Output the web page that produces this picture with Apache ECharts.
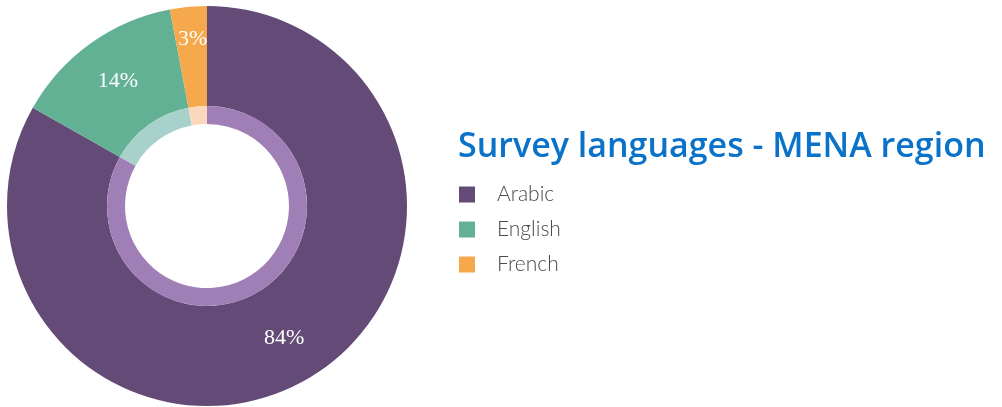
<!DOCTYPE html>
<html>
<head>
<meta charset="utf-8">
<script src="https://cdn.jsdelivr.net/npm/echarts@6/dist/echarts.min.js"></script>
<style>
  html, body { margin: 0; padding: 0; background: #ffffff; }
  #chart { width: 1002px; height: 407px; }
</style>
</head>
<body>
<div id="chart"></div>
<script>
// Survey languages used in the MENA region (share of responses, %)
const languages = ['Arabic', 'English', 'French'];
const shares = [84, 14, 3];
const sliceColors = ['#634a77', '#63b194', '#f5a94c'];
const ringColors = ['#a07fb7', '#a9d1cc', '#fbd7bb'];
const chartTitle = 'Survey languages - MENA region';

const center = [207, 206];

const outerData = languages.map((name, i) => ({
  name,
  value: shares[i],
  itemStyle: { color: sliceColors[i] },
  label: i === 2 ? { offset: [0, -14] } : {}
}));
const ringData = languages.map((name, i) => ({
  name,
  value: shares[i],
  itemStyle: { color: ringColors[i] }
}));

const chart = echarts.init(document.getElementById('chart'), null, { renderer: 'canvas' });
chart.setOption({
  animation: false,
  backgroundColor: '#ffffff',
  title: {
    text: chartTitle,
    left: 458,
    top: 130,
    padding: 0,
    textStyle: {
      color: '#0a72c9',
      fontFamily: 'Open Sans',
      fontWeight: 600,
      fontSize: 34
    }
  },
  legend: {
    orient: 'vertical',
    left: 459,
    top: 184,
    padding: 0,
    icon: 'rect',
    itemWidth: 16,
    itemHeight: 16,
    itemGap: 14,
    selectedMode: false,
    data: languages,
    textStyle: {
      color: '#4a4a4a',
      fontFamily: 'Lato',
      fontWeight: 300,
      fontSize: 21,
      lineHeight: 16,
      padding: [0, 0, 0, 17]
    }
  },
  series: [
    {
      type: 'pie',
      center,
      radius: [100, 200],
      startAngle: 90,
      clockwise: true,
      silent: true,
      data: outerData,
      label: {
        show: true,
        position: 'inside',
        formatter: '{c}%',
        color: '#ffffff',
        fontFamily: 'Liberation Serif',
        fontSize: 22
      },
      labelLine: { show: false },
      itemStyle: { borderWidth: 0 }
    },
    {
      type: 'pie',
      center,
      radius: [82, 100],
      startAngle: 90,
      clockwise: true,
      silent: true,
      data: ringData,
      label: { show: false },
      labelLine: { show: false },
      itemStyle: { borderWidth: 0 }
    }
  ]
});
</script>
</body>
</html>
